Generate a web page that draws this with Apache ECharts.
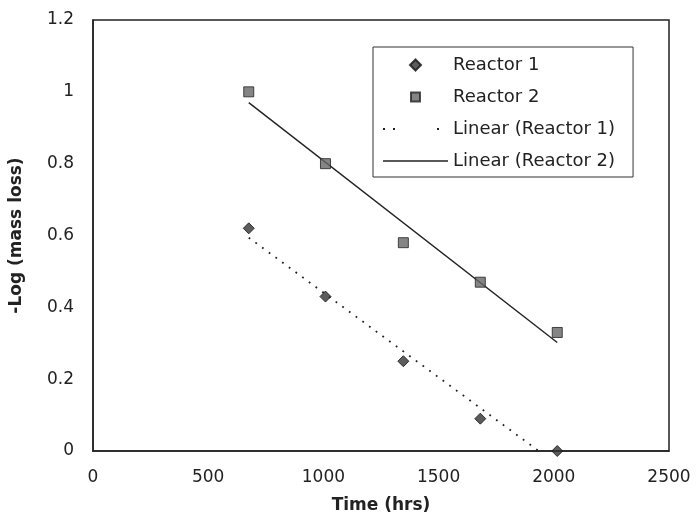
<!DOCTYPE html>
<html>
<head>
<meta charset="utf-8">
<script src="https://cdn.jsdelivr.net/npm/echarts@6/dist/echarts.min.js"></script>
<style>
  html, body { margin: 0; padding: 0; background: #fff; }
  #main { width: 697px; height: 528px; }
</style>
</head>
<body>
<div id="main"></div>
<script>
// measured points
var timeHrs = [676, 1009, 1347, 1681, 2015];
var reactor1 = [0.62, 0.43, 0.25, 0.09, 0.0];
var reactor2 = [1.0, 0.8, 0.58, 0.47, 0.33];
// trend line end points
var trend1X = [676, 2015];
var trend1Y = [0.594, -0.038];
var trend2X = [676, 2015];
var trend2Y = [0.970, 0.302];

function pairs(xs, ys) {
  return xs.map(function (x, i) { return [x, ys[i]]; });
}

var fontFam = '"DejaVu Sans", sans-serif';

// legend icons: the leading M0,0 M65,14 pins the box so the mark keeps its size
var iconBox = 'M0,0 M65,14 ';
var iconDiamond = 'path://' + iconBox + 'M32.5,1.5 L38,7 L32.5,12.5 L27,7 Z';
var iconSquare = 'path://' + iconBox + 'M28,2.5 L37,2.5 L37,11.5 L28,11.5 Z';
var iconDots = 'path://' + iconBox + 'M0,6 L2,6 L2,8 L0,8 Z M10,6 L12,6 L12,8 L10,8 Z M54,6 L56,6 L56,8 L54,8 Z';
var iconLine = 'path://' + iconBox + 'M0,6.3 L65,6.3 L65,7.7 L0,7.7 Z';

var chart = echarts.init(document.getElementById('main'));
var option = {
  backgroundColor: '#fff',
  animation: false,
  grid: {
    left: 92, top: 20, right: 28, bottom: 77,
    show: true, borderColor: '#222', borderWidth: 1.5
  },
  legend: {
    orient: 'vertical',
    left: 373,
    top: 47,
    padding: [8, 18, 6, 9],
    itemGap: 12,
    itemWidth: 65,
    itemHeight: 14,
    borderColor: '#333',
    borderWidth: 1,
    backgroundColor: '#fff',
    textStyle: { fontFamily: fontFam, fontSize: 18, lineHeight: 20, color: '#222' },
    data: [
      { name: 'Reactor 1', icon: iconDiamond },
      { name: 'Reactor 2', icon: iconSquare },
      { name: 'Linear (Reactor 1)', icon: iconDots },
      { name: 'Linear (Reactor 2)', icon: iconLine }
    ]
  },
  xAxis: {
    type: 'value',
    min: 0, max: 2500, interval: 500,
    name: 'Time (hrs)',
    nameLocation: 'middle',
    nameGap: 46,
    nameTextStyle: { fontFamily: fontFam, fontSize: 17, fontWeight: 'bold', color: '#222' },
    axisLine: { show: true, lineStyle: { color: '#222', width: 1.5 } },
    axisTick: { show: false },
    splitLine: { show: false },
    axisLabel: {
      margin: 18, fontFamily: fontFam, fontSize: 17, color: '#222',
      formatter: function (v) { return String(v); }
    }
  },
  yAxis: {
    type: 'value',
    min: 0, max: 1.2, interval: 0.2,
    name: '-Log (mass loss)',
    nameLocation: 'middle',
    nameGap: 68,
    nameRotate: 90,
    nameTextStyle: { fontFamily: fontFam, fontSize: 17, fontWeight: 'bold', color: '#222' },
    axisLine: { show: true, lineStyle: { color: '#222', width: 1.5 } },
    axisTick: { show: false },
    splitLine: { show: false },
    axisLabel: { margin: 19, fontFamily: fontFam, fontSize: 17, color: '#222' }
  },
  series: [
    {
      name: 'Reactor 1',
      type: 'scatter',
      symbol: 'diamond',
      symbolSize: 11,
      itemStyle: { color: '#333', borderColor: '#111', borderWidth: 1 },
      data: pairs(timeHrs, reactor1),
      z: 3
    },
    {
      name: 'Reactor 2',
      type: 'scatter',
      symbol: 'rect',
      symbolSize: 10,
      itemStyle: { color: '#666', borderColor: '#222', borderWidth: 1 },
      data: pairs(timeHrs, reactor2),
      z: 3
    },
    {
      name: 'Linear (Reactor 1)',
      type: 'line',
      symbol: 'none',
      clip: true,
      lineStyle: { color: '#222', width: 1.8, type: [1.8, 6.5] },
      itemStyle: { color: '#222' },
      data: pairs(trend1X, trend1Y)
    },
    {
      name: 'Linear (Reactor 2)',
      type: 'line',
      symbol: 'none',
      clip: true,
      lineStyle: { color: '#222', width: 1.4 },
      itemStyle: { color: '#222' },
      data: pairs(trend2X, trend2Y)
    }
  ]
};
chart.setOption(option);
</script>
</body>
</html>
